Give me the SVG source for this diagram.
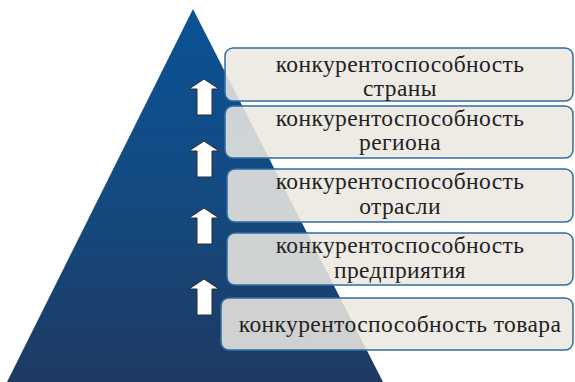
<svg xmlns="http://www.w3.org/2000/svg" width="575" height="382" viewBox="0 0 575 382">
<defs>
<linearGradient id="tri" x1="0" y1="0" x2="0" y2="1">
<stop offset="0" stop-color="#0a5296"/>
<stop offset="0.5" stop-color="#134a80"/>
<stop offset="1" stop-color="#1e3a62"/>
</linearGradient>
<path id="arrow" d="M0,0 L15,10 L8,10 L8,36 L-7,36 L-7,10 L-15,10 Z"/>
</defs>
<style>
.box{fill:#ebe8e1;fill-opacity:0.87;stroke:#2f6ca3;stroke-width:1.5}
.t{font-family:"Liberation Serif","Times New Roman",serif;font-size:23.5px;letter-spacing:0.4px;fill:#222;text-anchor:middle}
.arr{fill:#fff;stroke:#2a2a2a;stroke-width:1}
</style>
<rect width="575" height="382" fill="#fff"/>
<g id="pyramid">
<polygon points="193,9 383,382 7,382" fill="url(#tri)"/>
</g>
<g id="connectors">
<use href="#arrow" class="arr" x="204" y="79"/>
<use href="#arrow" class="arr" x="204" y="141"/>
<use href="#arrow" class="arr" x="204" y="208"/>
<use href="#arrow" class="arr" x="204" y="279"/>
</g>
<g id="n1">
<rect class="box" x="225" y="48" width="348" height="53" rx="8"/>
<text class="t" x="400" y="72">конкурентоспособность</text>
<text class="t" x="400" y="96">страны</text>
</g>
<g id="n2">
<rect class="box" x="225" y="106" width="348" height="52" rx="8"/>
<text class="t" x="400" y="126">конкурентоспособность</text>
<text class="t" x="400" y="150">региона</text>
</g>
<g id="n3">
<rect class="box" x="227" y="169" width="346" height="53" rx="8"/>
<text class="t" x="400" y="189">конкурентоспособность</text>
<text class="t" x="400" y="214">отрасли</text>
</g>
<g id="n4">
<rect class="box" x="227" y="233" width="346" height="52" rx="8"/>
<text class="t" x="400" y="253">конкурентоспособность</text>
<text class="t" x="400" y="278">предприятия</text>
</g>
<g id="n5">
<rect class="box" x="221" y="298" width="352" height="52" rx="8"/>
<text class="t" x="400" y="332">конкурентоспособность товара</text>
</g>
</svg>
